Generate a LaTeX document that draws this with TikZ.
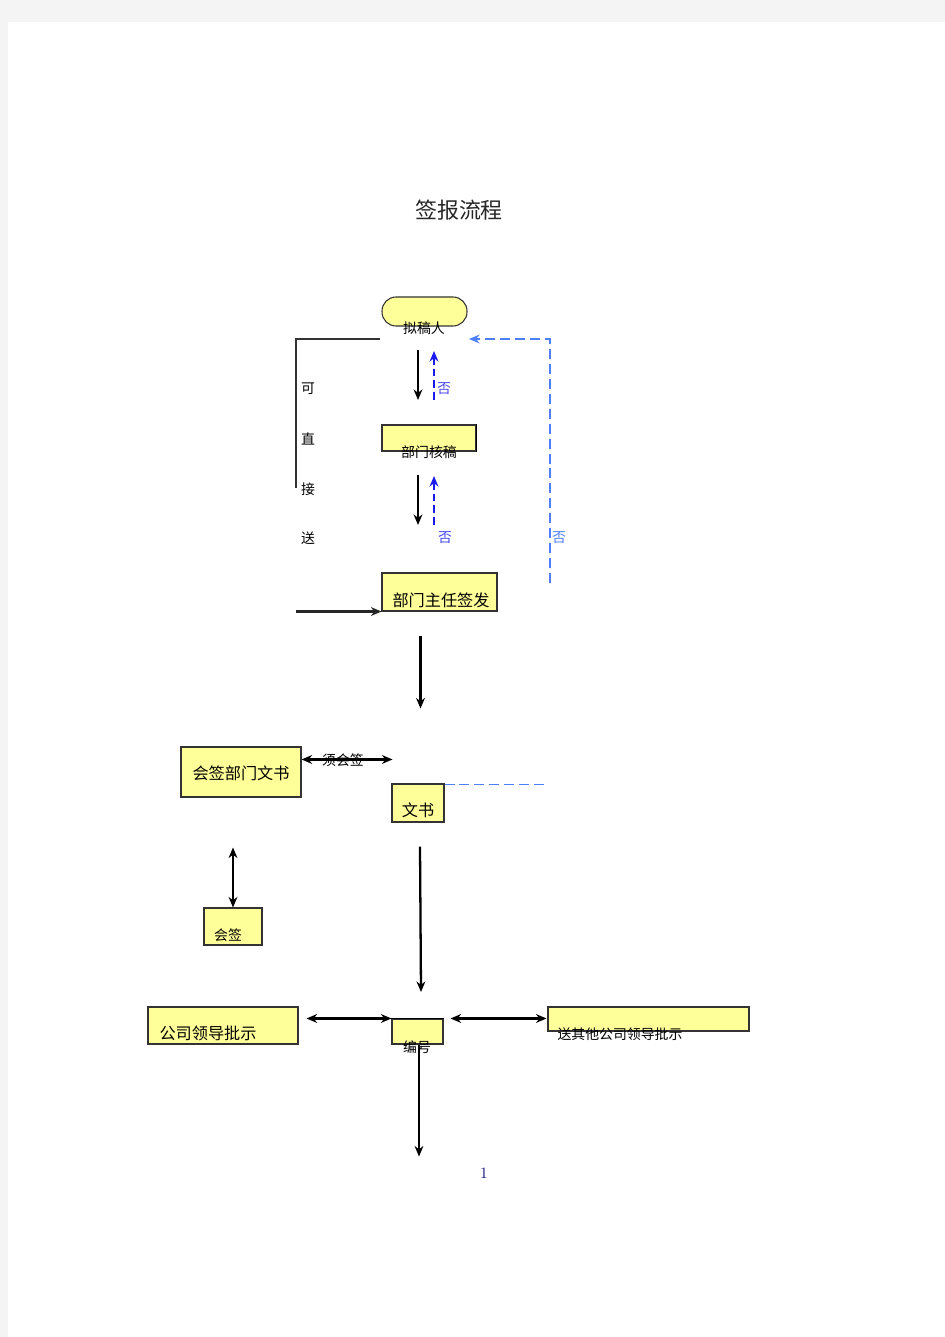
\documentclass[tikz,border=0pt]{standalone}
\usepackage{fontspec}
\newfontfamily\cjk{Noto Sans CJK SC}
\usetikzlibrary{arrows.meta}
\definecolor{boxfill}{HTML}{FFFF99}
\definecolor{pagegray}{HTML}{F4F4F4}
\definecolor{noblue}{HTML}{1A1AF0}
\definecolor{backblue}{HTML}{4D7FFF}
\definecolor{pagenum}{HTML}{1F1F80}
\tikzset{
  box/.style={draw=black!80,fill=boxfill,line width=0.6pt,inner sep=0pt},
  boxsize/.style 2 args={minimum width=#1*0.02cm,minimum height=#2*0.02cm},
  txt/.style={font=\cjk\fontsize{7.9}{8}\selectfont,inner sep=0pt},
  bigtxt/.style={font=\cjk\fontsize{9.2}{10}\selectfont,inner sep=0pt},
  arr/.style={line width=1.3pt,-{Stealth[length=6pt,width=5pt]}},
  darr/.style={line width=1.2pt,{Stealth[length=6pt,width=5pt]}-{Stealth[length=6pt,width=5pt]}},
  noarr/.style={noblue,line width=1.2pt,dash pattern=on 4.5pt off 2.2pt,-{Stealth[length=6pt,width=5pt]}},
  backline/.style={backblue,line width=1pt,dash pattern=on 5.7pt off 2.8pt},
}
\begin{document}
\begin{tikzpicture}[x=0.02cm,y=-0.02cm]
  %% page
  \fill[pagegray] (0,0) rectangle (945,1337);
  \fill[white] (8,22) rectangle (945,1337);
  \node[font=\cjk\fontsize{12.5}{13}\selectfont,inner sep=0pt,text=black!85] (title) at (459,210) {签报流程};
  %% boxes
  \node[box,boxsize={85}{29},rounded corners=0.28cm] (draftbox) at (424.5,311.5) {};
  \node[box,boxsize={94}{26}] (checkbox) at (429,438) {};
  \draw[line width=1pt] (checkbox.north east) -- (checkbox.south east);
  \node[box,boxsize={115}{38}] (signoffbox) at (439.5,592) {};
  \node[box,boxsize={120}{50}] (cosignbox) at (241,772) {};
  \node[box,boxsize={52}{38}] (docbox) at (418,803) {};
  \node[box,boxsize={58}{37}] (signbox) at (233,926.5) {};
  \node[box,boxsize={150}{37}] (leaderbox) at (223,1025.5) {};
  \node[box,boxsize={51}{25}] (numbox) at (417.5,1031.5) {};
  \draw[line width=1pt] (numbox.north west) -- (numbox.north east);
  \node[box,boxsize={201}{24}] (otherbox) at (648.5,1019) {};
  %% texts
  \node[txt] (draft) at (424,328) {拟稿人};
  \node[txt] (check) at (429,452) {部门核稿};
  \node[bigtxt] (signoff) at (441,600) {部门主任签发};
  \node[bigtxt] (cosign) at (241,773) {会签部门文书};
  \node[bigtxt] (doc) at (418,810) {文书};
  \node[txt] (sign) at (228,935) {会签};
  \node[bigtxt] (leader) at (208,1033) {公司领导批示};
  \node[txt] (num) at (417,1047) {编号};
  \node[txt] (other) at (620,1034) {送其他公司领导批示};
  \node[txt] (ke) at (308,389) {可};
  \node[txt] (zhi) at (308,439) {直};
  \node[txt] (jie) at (308,489) {接};
  \node[txt] (song) at (308,538) {送};
  \node[txt,text=noblue!80] (no1) at (444,389) {否};
  \node[txt,text=noblue!80] (no2) at (445,538) {否};
  \node[txt,text=backblue] (no3) at (559,538) {否};
  \node[font=\fontsize{9}{10}\selectfont,text=pagenum,inner sep=0pt] (page) at (484,1173) {1};
  %% direct send
  \draw[black!80,line width=1pt] (380,339) -- (296,339) -- (296,488);
  \draw[arr,black!85] (signoffbox.south west) ++(-85,0) -- (signoffbox.south west);
  %% draft and check
  \coordinate (d1) at (418,350);
  \coordinate (d2) at (418,400);
  \coordinate (d3) at (418,475);
  \coordinate (d4) at (418,525);
  \draw[arr] (d1) -- (d2);
  \draw[noarr] (434,400) -- (434,351);
  \draw[arr] (d3) -- (d4);
  \draw[noarr] (434,525) -- (434,476);
  \draw[backline,-{Stealth[length=6pt,width=5pt]}] (550,583) -- (550,339) -- (469,339);
  %% sign off to clerk
  \draw[arr] (signoffbox.south) ++(-19,24) -- ++(0,73);
  \draw[darr] (cosignbox.north east) ++(0,13) -- ++(91,0);
  \node[txt] (must) at (343,760) {须会签};
  \draw[backline] (docbox.north east) ++(0,1) -- ++(103,0);
  \draw[darr] (signbox.north) -- ++(0,-60);
  \draw[arr] (docbox.south) ++(2,24) -- (421,992);
  %% number
  \draw[darr] (leaderbox.north east) ++(8,12) -- (numbox.north west);
  \draw[darr] (numbox.north east) ++(7,0) -- ++(96,0);
  \draw[arr] (numbox.south) ++(1.5,0) -- ++(0,112);
\end{tikzpicture}
\end{document}
